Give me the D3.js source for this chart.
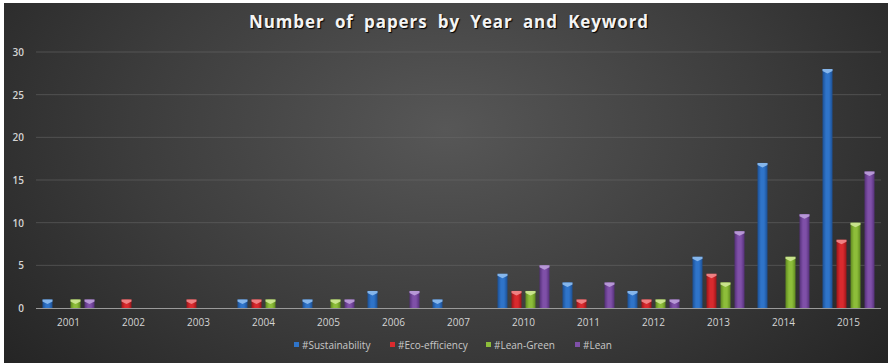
<!DOCTYPE html>
<html>
<head>
<meta charset="utf-8">
<script src="https://cdnjs.cloudflare.com/ajax/libs/d3/7.8.5/d3.min.js"></script>
<style>
  html, body { margin: 0; padding: 0; background: #ffffff; }
  svg { display: block; }
</style>
</head>
<body>
<svg id="chart" width="888" height="363"></svg>
<script>
// Publication counts per year, one array per keyword
const years = ["2001", "2002", "2003", "2004", "2005", "2006", "2007", "2010", "2011", "2012", "2013", "2014", "2015"];
const seriesNames = ["#Sustainability", "#Eco-efficiency", "#Lean-Green", "#Lean"];
const sustainability = [1, 0, 0, 1, 1, 2, 1, 4, 3, 2, 6, 17, 28];
const ecoEfficiency  = [0, 1, 1, 1, 0, 0, 0, 2, 1, 1, 4, 0, 8];
const leanGreen      = [1, 0, 0, 1, 1, 0, 0, 2, 0, 1, 3, 6, 10];
const lean           = [1, 0, 0, 0, 1, 2, 0, 5, 3, 1, 9, 11, 16];
const yTicks = [0, 5, 10, 15, 20, 25, 30];

const seriesValues = [sustainability, ecoEfficiency, leanGreen, lean];
const colors = ["#2f74c9", "#d92a2e", "#8dbd3a", "#7f50a8"];
const darkColors = ["#1b4f94", "#9c1519", "#5f8a1e", "#55307a"];
const lightColors = ["#8fbef0", "#f28a8c", "#cfe896", "#bea0dc"];

const svg = d3.select("#chart");
const W = 888, H = 363;

// Background: dark panel with a soft lighter glow near the middle
const defs = svg.append("defs");
const bg = defs.append("radialGradient").attr("id", "bgGrad")
  .attr("cx", "50%").attr("cy", "35%").attr("r", "65%")
  .attr("gradientTransform", "translate(0.5 0.35) scale(1 1.6) translate(-0.5 -0.35)");
bg.append("stop").attr("offset", "0%").attr("stop-color", "#575757");
bg.append("stop").attr("offset", "55%").attr("stop-color", "#3c3c3c");
bg.append("stop").attr("offset", "100%").attr("stop-color", "#242424");
svg.append("rect").attr("x", 4).attr("y", 3).attr("width", W - 4).attr("height", H - 3)
  .attr("fill", "url(#bgGrad)");

// Cylinder-like shading for each series
seriesNames.forEach((s, i) => {
  const g = defs.append("linearGradient").attr("id", "barGrad" + i)
    .attr("x1", "0%").attr("x2", "100%").attr("y1", "0%").attr("y2", "0%");
  g.append("stop").attr("offset", "0%").attr("stop-color", darkColors[i]);
  g.append("stop").attr("offset", "35%").attr("stop-color", colors[i]);
  g.append("stop").attr("offset", "65%").attr("stop-color", colors[i]);
  g.append("stop").attr("offset", "100%").attr("stop-color", darkColors[i]);
});

// Scales
const x = d3.scaleBand().domain(years).range([36, 881]).padding(0);
const xInner = d3.scaleBand().domain(seriesNames).range([0, x.bandwidth()])
  .paddingInner(4 / 14).paddingOuter(0.464);
const y = d3.scaleLinear().domain([0, 30]).range([308, 52]);

// Gridlines
svg.append("g").selectAll("line").data(yTicks.filter(t => t > 0)).join("line")
  .attr("x1", 36).attr("x2", 881)
  .attr("y1", d => y(d)).attr("y2", d => y(d))
  .attr("stroke", "#6a6a6a").attr("stroke-opacity", 0.55).attr("stroke-width", 1);

// Y axis labels
const yAxis = d3.axisLeft(y).tickValues(yTicks).tickSize(0).tickPadding(0);
const yg = svg.append("g").attr("transform", "translate(24,0)").call(yAxis);
yg.select(".domain").remove();
yg.selectAll("text").attr("fill", "#d4d4d4").attr("font-family", "'Open Sans', sans-serif")
  .attr("font-size", 10).attr("font-weight", 600).attr("dy", "0.35em");

// Bars
const barData = [];
years.forEach((yr, ci) => {
  seriesNames.forEach((s, si) => {
    const v = seriesValues[si][ci];
    if (v > 0) barData.push({ yr, s, si, v });
  });
});
const bars = svg.append("g").selectAll("g").data(barData).join("g")
  .attr("transform", d => `translate(${x(d.yr) + xInner(d.s)},0)`);
bars.append("rect")
  .attr("x", 0).attr("width", xInner.bandwidth())
  .attr("y", d => y(d.v)).attr("height", d => y(0) - y(d.v))
  .attr("fill", d => `url(#barGrad${d.si})`);
// light top cap
bars.append("path")
  .attr("d", d => {
    const w = xInner.bandwidth(), t = y(d.v);
    return `M0,${t} L${w},${t} L${w},${t + 2} L${w / 2},${t + 4.5} L0,${t + 2} Z`;
  })
  .attr("fill", d => lightColors[d.si]).attr("opacity", 0.9);

// Baseline
svg.append("line").attr("x1", 36).attr("x2", 881).attr("y1", y(0) + 0.5).attr("y2", y(0) + 0.5)
  .attr("stroke", "#9a9a9a").attr("stroke-width", 1.2);

// X axis labels
const xAxis = d3.axisBottom(x).tickSize(0).tickPadding(0);
const xg = svg.append("g").attr("transform", `translate(0,${y(0) + 18})`).call(xAxis);
xg.select(".domain").remove();
xg.selectAll("text").attr("fill", "#d4d4d4").attr("font-family", "'Open Sans', sans-serif")
  .attr("font-size", 10).attr("dy", "0");

// Title
svg.append("text").attr("x", 449).attr("y", 28).attr("text-anchor", "middle")
  .attr("fill", "#f4f4f4").attr("font-family", "'Open Sans', sans-serif")
  .attr("font-size", 17).attr("font-weight", 700)
  .attr("letter-spacing", 0.9).attr("word-spacing", 5)
  .style("text-shadow", "1px 1px 1px #000")
  .text("Number of papers by Year and Keyword");

// Legend
const legendX = [294, 390, 486, 575];
const lg = svg.append("g").selectAll("g").data(seriesNames).join("g")
  .attr("transform", (d, i) => `translate(${legendX[i]},345)`);
lg.append("rect").attr("x", 0).attr("y", -3).attr("width", 5).attr("height", 5)
  .attr("fill", (d, i) => colors[i]);
lg.append("text").attr("x", 8).attr("y", 0).attr("dy", "0.35em")
  .attr("fill", "#c8c8c8").attr("font-family", "'Open Sans', sans-serif").attr("font-size", 10)
  .text(d => d);
</script>
</body>
</html>
